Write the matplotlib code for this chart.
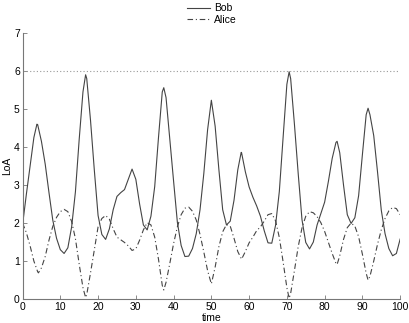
import numpy as np
import matplotlib
matplotlib.use("Agg")
import matplotlib.pyplot as plt

plt.rcParams['font.family'] = ['Liberation Sans', 'DejaVu Sans']

# Bob: level of arousal (integer times plus peak points)
bob_time = [0, 1, 2, 3, 3.8, 4, 5, 6, 7, 8, 9, 10, 11, 12, 13, 14, 15, 16, 16.7,
            17, 18, 19, 20, 21, 22, 23, 24, 25, 26, 27, 28, 29, 30, 31, 32, 33,
            34, 35, 36, 37, 37.4, 38, 39, 40, 41, 42, 43, 44, 45, 46, 47, 48, 49,
            50, 51, 52, 53, 54, 55, 56, 57, 57.9, 58, 59, 60, 61, 62, 63, 64, 65,
            66, 67, 68, 69, 70, 70.6, 71, 72, 73, 74, 75, 76, 77, 78, 79, 80, 81,
            82, 83, 83.3, 84, 85, 86, 87, 88, 89, 90, 91, 91.5, 92, 93, 94, 95,
            96, 97, 98, 99, 100]
bob_loa = [1.95, 2.75, 3.5, 4.25, 4.6, 4.59, 4.15, 3.55, 2.8, 2.08, 1.6, 1.3, 1.2,
           1.35, 1.9, 2.82, 4.2, 5.45, 5.9, 5.8, 4.7, 3.4, 2.2, 1.7, 1.57, 1.85,
           2.35, 2.7, 2.8, 2.88, 3.15, 3.42, 3.15, 2.5, 1.95, 1.82, 2.18, 2.96,
           4.25, 5.45, 5.56, 5.3, 4.2, 3.1, 2.02, 1.41, 1.12, 1.13, 1.33, 1.72,
           2.35, 3.3, 4.45, 5.23, 4.55, 3.4, 2.35, 1.95, 2.05, 2.6, 3.4, 3.86,
           3.85, 3.35, 2.95, 2.68, 2.45, 2.18, 1.8, 1.48, 1.47, 1.94, 2.83, 4.25,
           5.65, 5.98, 5.8, 4.6, 3.3, 2.09, 1.49, 1.32, 1.5, 1.95, 2.25, 2.55,
           3.1, 3.7, 4.12, 4.15, 3.85, 3.0, 2.22, 1.99, 2.14, 2.72, 3.8, 4.85,
           5.02, 4.85, 4.3, 3.35, 2.34, 1.72, 1.33, 1.14, 1.2, 1.58]

# Alice (integer times plus the sharp minima)
alice_time = [0, 1, 2, 3, 4, 4.2, 5, 6, 7, 8, 9, 10, 11, 12, 13, 14, 15, 16, 16.7,
              17, 18, 19, 20, 21, 22, 23, 24, 25, 26, 27, 28, 29, 30, 31, 32, 33,
              34, 35, 36, 37, 37.4, 38, 39, 40, 41, 42, 43, 44, 45, 46, 47, 48, 49,
              50, 51, 52, 53, 54, 55, 56, 57, 58, 59, 60, 61, 62, 63, 64, 65, 66,
              67, 68, 69, 70, 70.6, 71, 72, 73, 74, 75, 76, 77, 78, 79, 80, 81, 82,
              83, 83.3, 84, 85, 86, 87, 88, 89, 90, 91, 91.5, 92, 93, 94, 95, 96,
              97, 98, 99, 100]
alice_loa = [2.0, 1.75, 1.4, 1.0, 0.72, 0.69, 0.82, 1.12, 1.55, 1.91, 2.15, 2.3,
             2.36, 2.3, 2.04, 1.59, 0.92, 0.3, 0.04, 0.12, 0.69, 1.29, 1.9, 2.12,
             2.2, 2.1, 1.85, 1.63, 1.56, 1.49, 1.4, 1.28, 1.32, 1.55, 1.82, 2.01,
             1.95, 1.63, 1.05, 0.36, 0.24, 0.44, 0.94, 1.46, 1.9, 2.22, 2.39, 2.42,
             2.31, 2.08, 1.7, 1.24, 0.75, 0.4, 0.84, 1.38, 1.77, 1.96, 1.92, 1.6,
             1.25, 1.05, 1.25, 1.48, 1.63, 1.8, 1.9, 2.05, 2.22, 2.25, 2.06, 1.62,
             0.98, 0.3, 0.02, 0.15, 0.75, 1.38, 1.87, 2.18, 2.3, 2.27, 2.17, 2.01,
             1.78, 1.49, 1.2, 0.94, 0.91, 1.14, 1.57, 1.88, 2.0, 1.92, 1.64, 1.18,
             0.68, 0.5, 0.6, 1.0, 1.44, 1.82, 2.12, 2.32, 2.41, 2.38, 2.22]

threshold = 6
x_ticks = [0, 10, 20, 30, 40, 50, 60, 70, 80, 90, 100]
y_ticks = [0, 1, 2, 3, 4, 5, 6, 7]

fig = plt.figure(figsize=(4.1, 3.23), dpi=100)
ax = fig.add_axes([0.055, 0.074, 0.921, 0.824])

ax.axhline(threshold, color='#999999', lw=0.8, ls=(0, (1, 2)))
l1, = ax.plot(bob_time, bob_loa, color='#444444', lw=0.8, label='Bob')
l2, = ax.plot(alice_time, alice_loa, color='#444444', lw=0.8,
              ls=(0, (5, 2.5, 1, 2.5)), label='Alice')

ax.set_xlim(0, 100)
ax.set_ylim(0, 7)
ax.set_xticks(x_ticks)
ax.set_yticks(y_ticks)
for s in ['top', 'right']:
    ax.spines[s].set_visible(False)
for s in ['left', 'bottom']:
    ax.spines[s].set_color('#777777')
    ax.spines[s].set_linewidth(0.8)
ax.tick_params(direction='in', length=3, width=0.6, color='#777777',
               labelsize=7.5, pad=2)
ax.set_xlabel('time', fontsize=7.5, labelpad=1)
ax.set_ylabel('LoA', fontsize=7.5, labelpad=1)

fig.legend(handles=[l1, l2], loc='center', bbox_to_anchor=(0.516, 0.956),
           frameon=False, fontsize=7.5, handlelength=2.2, handletextpad=0.4,
           labelspacing=0.15, borderaxespad=0)

fig.savefig('out.png', dpi=100)
